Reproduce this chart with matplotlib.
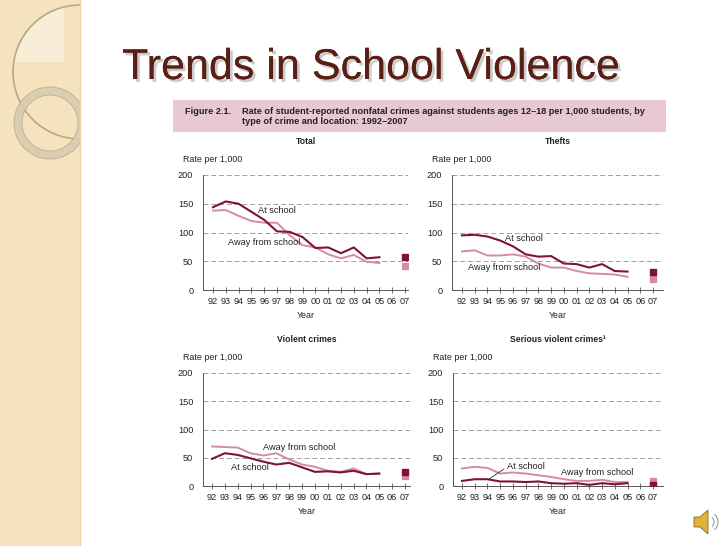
import numpy as np
import matplotlib.pyplot as plt
from matplotlib import patches
import matplotlib.patheffects as pe

plt.rcParams['font.family'] = ['Liberation Sans', 'DejaVu Sans']

# Data (rate per 1,000 students), 1992-2005 plus 2007
years = ['92', '93', '94', '95', '96', '97', '98', '99', '00', '01', '02', '03', '04', '05', '06', '07']
total_school = [144, 154, 150, 136, 122, 102, 101, 92, 73, 74, 64, 74, 55, 57]
total_away = [138, 139, 129, 120, 117, 117, 95, 78, 74, 62, 55, 61, 49, 47]
total_2007 = [57, 41]
theft_school = [95, 96, 93, 86, 76, 62, 58, 59, 46, 45, 39, 45, 33, 32]
theft_away = [67, 69, 60, 60, 62, 58, 46, 39, 39, 33, 29, 28, 27, 23]
theft_2007 = [32, 20]
violent_school = [48, 58, 55, 49, 43, 38, 41, 33, 25, 26, 24, 27, 21, 22]
violent_away = [70, 69, 68, 58, 54, 58, 47, 38, 34, 27, 25, 31, 21, 22]
violent_2007 = [24, 18]
serious_school = [9, 12, 12, 8, 8, 7, 8, 5, 4, 5, 2, 5, 3, 5]
serious_away = [31, 34, 32, 22, 24, 22, 19, 16, 12, 9, 9, 11, 7, 7]
serious_2007 = [2, 8]

DARK = '#7d1436'
LIGHT = '#d68aa5'
W, H = 728, 546

fig = plt.figure(figsize=(W / 100, H / 100), dpi=100)
fig.patch.set_facecolor('white')

# slide background in pixel coordinates
bg = fig.add_axes([0, 0, 1, 1])
bg.set_xlim(0, W)
bg.set_ylim(H, 0)
bg.axis('off')
strip = patches.Rectangle((0, 0), 80, H, facecolor='#f5e3bd', edgecolor='none')
bg.add_patch(strip)
lens = patches.Rectangle((0, 0), 64, 62, facecolor='#f8eed8', edgecolor='none')
bg.add_patch(lens)
lens.set_clip_path(patches.Circle((80, 72), 67, transform=bg.transData))
big = patches.Circle((80, 72), 67, facecolor='none', edgecolor='#b8a888', lw=1.2)
bg.add_patch(big)
big.set_clip_path(strip)
ring = patches.Wedge((50, 123), 36, 0, 360, width=8, facecolor='#d8ccb0', edgecolor='#b8aa8c', lw=0.6, alpha=0.9)
bg.add_patch(ring)
ring.set_clip_path(strip)
bg.plot([80, 80], [0, H], color='#e6d3a8', lw=1)

# speaker icon
bg.add_patch(patches.Polygon([(694, 517), (700, 517), (708, 510), (708, 534), (700, 527), (694, 527)],
                             closed=True, facecolor='#e2b23a', edgecolor='#8a6a20', lw=0.6))
for r in (6, 10):
    bg.add_patch(patches.Arc((708, 522), r * 2, r * 2, theta1=-50, theta2=50, color='#9a9aa8', lw=0.8))

fig.text(122 / W, 1 - 68 / H, 'Trends in School Violence', fontsize=31, color='#5a1f14',
         va='center', ha='left',
         path_effects=[pe.withSimplePatchShadow(offset=(2, -2), shadow_rgbFace='#999999', alpha=0.5), pe.Normal()])

# figure caption box
bg.add_patch(patches.Rectangle((173, 100), 493, 32, facecolor='#e8c9d2', edgecolor='none'))
bg.text(185, 111, 'Figure 2.1.', fontsize=6.6, fontweight='bold', va='center', ha='left', color='#222222')
bg.text(242, 111, 'Rate of student-reported nonfatal crimes against students ages 12\u201318 per 1,000 students, by',
        fontsize=6.6, fontweight='bold', va='center', ha='left', color='#222222')
bg.text(242, 121, 'type of crime and location: 1992\u20132007', fontsize=6.6, fontweight='bold',
        va='center', ha='left', color='#222222')


def panel(spine_x, x92, x07, right_x, top_y, bot_y, title, school, away, last, labels, leader=None):
    ax = fig.add_axes([spine_x / W, 1 - bot_y / H, (right_x - spine_x) / W, (bot_y - top_y) / H])
    step = (x07 - x92) / 15
    ax.set_xlim(-(x92 - spine_x) / step, 15 + (right_x - x07) / step)
    ax.set_ylim(0, 200)
    idx = np.arange(len(school))
    ax.plot(idx, away, color=LIGHT, lw=1.4, zorder=3)
    ax.plot(idx, school, color=DARK, lw=1.5, zorder=4)
    ax.plot([15], [last[1]], 's', color=LIGHT, ms=5, zorder=3)
    ax.plot([15], [last[0]], 's', color=DARK, ms=5, zorder=4)
    ax.set_yticks([0, 50, 100, 150, 200])
    ax.set_xticks(range(16))
    ax.set_xticklabels(years)
    for v in (50, 100, 150, 200):
        ax.axhline(v, color='#a0a0a0', lw=0.7, ls=(0, (5, 3)), zorder=1)
    for s in ('top', 'right'):
        ax.spines[s].set_visible(False)
    for s in ('left', 'bottom'):
        ax.spines[s].set_color('#555555')
        ax.spines[s].set_linewidth(0.7)
    ax.tick_params(axis='x', direction='inout', length=4, width=0.6, color='#555555',
                   labelsize=6.6, pad=3, labelcolor='#222222')
    ax.tick_params(axis='y', length=0, labelsize=6.6, pad=7, labelcolor='#222222')
    ax.set_facecolor('none')
    for txt, x, y in labels:
        ax.text(x, y, txt, fontsize=6.6, va='center', ha='left', color='#222222', zorder=5)
    if leader:
        ax.plot(leader[0], leader[1], color='#333333', lw=0.6, zorder=5)
    cx = (spine_x + right_x) / 2
    bg.text(cx, top_y - 33, title, fontsize=6.2, fontweight='bold', ha='center', va='center', color='#222222')
    bg.text(spine_x - 20, top_y - 15, 'Rate per 1,000', fontsize=6.4, ha='left', va='center', color='#222222')
    bg.text(cx, bot_y + 26, 'Year', fontsize=6.4, ha='center', va='center', color='#222222')
    return ax


panel(203, 213, 405, 408, 175, 290, 'Total', total_school, total_away, total_2007,
      [('At school', 3.5, 139), ('Away from school', 1.2, 82)])
panel(452, 462, 653, 663, 175, 290, 'Thefts', theft_school, theft_away, theft_2007,
      [('At school', 3.35, 90), ('Away from school', 0.5, 39)])
panel(203, 212, 405, 410, 373, 486, 'Violent crimes', violent_school, violent_away, violent_2007,
      [('Away from school', 3.95, 68), ('At school', 1.5, 32)])
panel(453, 462, 653, 663, 373, 486, 'Serious violent crimes\u00b9', serious_school, serious_away, serious_2007,
      [('At school', 3.55, 35), ('Away from school', 7.75, 23.5)],
      leader=([2.1, 3.3], [12, 30]))

fig.savefig('out.png', dpi=100)
